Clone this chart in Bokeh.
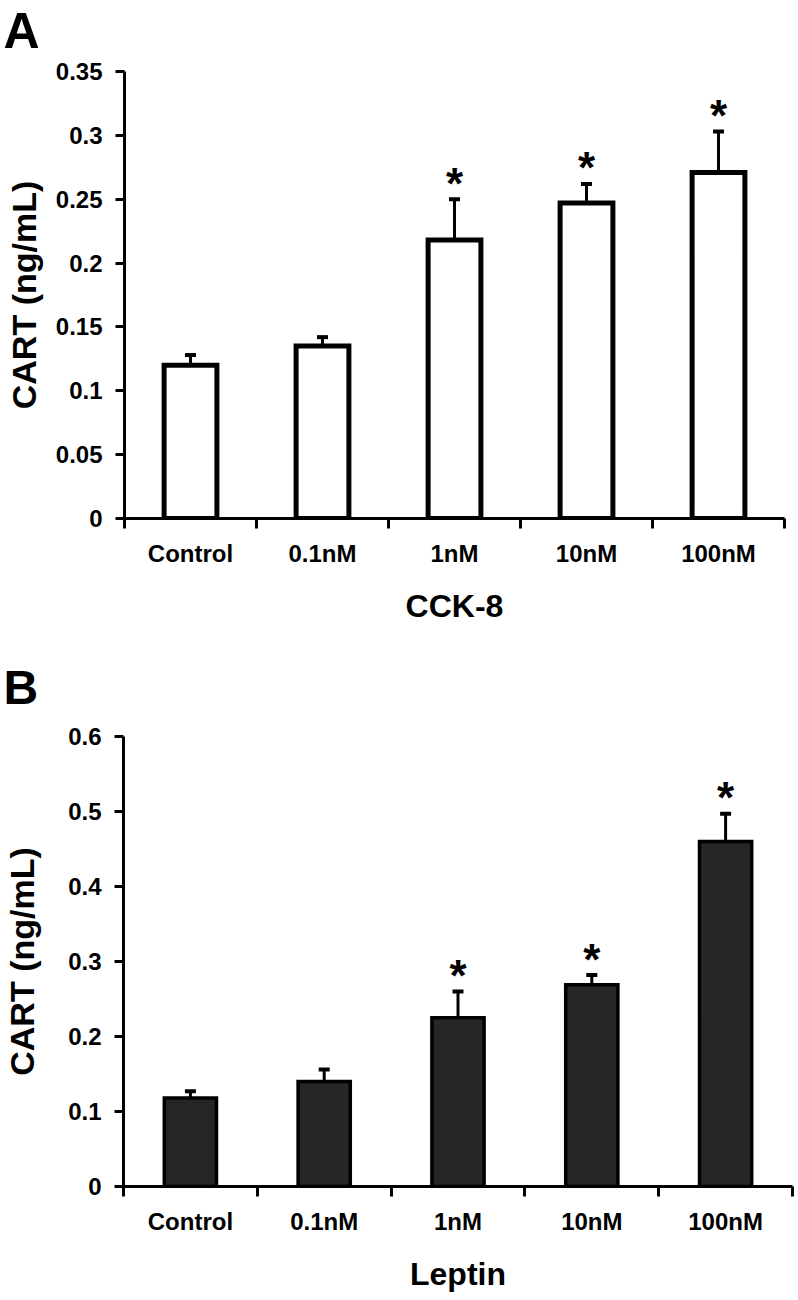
from bokeh.plotting import figure
from bokeh.models import Range1d, FixedTicker, Whisker, TeeHead, ColumnDataSource, Label
from bokeh.layouts import column
from bokeh.embed import file_html
from bokeh.resources import INLINE
from bokeh.core.properties import value

categories = ["Control", "0.1nM", "1nM", "10nM", "100nM"]

cck_mean = [0.120, 0.135, 0.218, 0.247, 0.271]
cck_err = [0.008, 0.007, 0.032, 0.015, 0.032]
cck_sig = [False, False, True, True, True]
cck_yticks = [0, 0.05, 0.1, 0.15, 0.2, 0.25, 0.3, 0.35]
cck_ylabels = ["0", "0.05", "0.1", "0.15", "0.2", "0.25", "0.3", "0.35"]

lep_mean = [0.118, 0.140, 0.225, 0.269, 0.460]
lep_err = [0.009, 0.016, 0.035, 0.013, 0.037]
lep_sig = [False, False, True, True, True]
lep_yticks = [0, 0.1, 0.2, 0.3, 0.4, 0.5, 0.6]
lep_ylabels = ["0", "0.1", "0.2", "0.3", "0.4", "0.5", "0.6"]

FONT = "Liberation Sans"


def no_title(p):
    p.title.text = ""
    p.title.text_font_size = "0px"
    p.title.standoff = 0


def letter_fig(letter, size, h, baseline_up):
    f = figure(width=798, height=h, output_backend="svg", toolbar_location=None,
               x_axis_location=None, y_axis_location=None, min_border=0,
               x_range=Range1d(0, 1), y_range=Range1d(0, 1))
    f.frame_align = False
    no_title(f)
    f.outline_line_color = None
    f.grid.visible = False
    f.add_layout(Label(x=3, y=baseline_up, x_units="screen", y_units="screen",
                       text=letter, text_baseline="alphabetic", text_align="left",
                       text_font=FONT, text_font_style="bold", text_font_size=size,
                       text_color="black"))
    return f


def make_panel(xlabel, means, errs, sig, yticks, ylabels, fill, line_w, bar_w,
               ylab_standoff, fig_h, b_left, b_top, b_right, b_bottom):
    n = len(categories)
    centers = [i + 0.5 for i in range(n)]
    uppers = [m + e for m, e in zip(means, errs)]
    p = figure(width=798, height=fig_h, output_backend="svg", toolbar_location=None,
               x_range=Range1d(0, n), y_range=Range1d(yticks[0], yticks[-1]),
               min_border_left=b_left, min_border_top=b_top,
               min_border_right=b_right, min_border_bottom=b_bottom)
    p.frame_align = False
    no_title(p)
    p.outline_line_color = None
    p.grid.visible = False
    p.background_fill_color = "white"
    p.border_fill_color = "white"

    src = ColumnDataSource(dict(x=centers, top=means, upper=uppers))
    p.vbar(x="x", top="top", bottom=0, width=bar_w, source=src,
           fill_color=fill, line_color="black", line_width=line_w, line_join="miter")
    p.add_layout(Whisker(base="x", lower="top", upper="upper", source=src,
                         dimension="height", line_width=3, line_color="black",
                         lower_head=None,
                         upper_head=TeeHead(size=11, line_width=4, line_color="black")))
    sx = [c for c, s in zip(centers, sig) if s]
    sy = [u for u, s in zip(uppers, sig) if s]
    p.text(x=sx, y=sy, text=["*"] * len(sx), text_align="center",
           text_baseline="alphabetic", text_font=value(FONT), text_font_style="bold",
           text_font_size="44px", text_color="black", y_offset=-16)

    xa = p.xaxis[0]
    xa.ticker = FixedTicker(ticks=centers, minor_ticks=list(range(n + 1)))
    xa.major_label_overrides = {c: lab for c, lab in zip(centers, categories)}
    xa.major_tick_line_color = None
    xa.major_tick_out = 0
    xa.major_tick_in = 0
    xa.minor_tick_out = 10
    xa.minor_tick_in = 0
    xa.minor_tick_line_width = 3
    xa.minor_tick_line_color = "black"
    xa.axis_line_width = 3
    xa.axis_line_color = "black"
    xa.major_label_standoff = 11
    xa.major_label_text_font = FONT
    xa.major_label_text_font_style = "bold"
    xa.major_label_text_font_size = "24px"
    xa.major_label_text_color = "black"
    xa.axis_label = xlabel
    xa.axis_label_text_font = FONT
    xa.axis_label_text_font_style = "bold"
    xa.axis_label_text_font_size = "32px"
    xa.axis_label_text_color = "black"
    xa.axis_label_standoff = 18

    ya = p.yaxis[0]
    ya.ticker = FixedTicker(ticks=yticks, minor_ticks=[])
    ya.major_label_overrides = {t: lab for t, lab in zip(yticks, ylabels)}
    ya.major_tick_out = 9
    ya.major_tick_in = 0
    ya.major_tick_line_width = 3
    ya.major_tick_line_color = "black"
    ya.axis_line_width = 3
    ya.axis_line_color = "black"
    ya.major_label_standoff = 13
    ya.major_label_text_font = FONT
    ya.major_label_text_font_style = "bold"
    ya.major_label_text_font_size = "24px"
    ya.major_label_text_color = "black"
    ya.axis_label = "CART (ng/mL)"
    ya.axis_label_text_font = FONT
    ya.axis_label_text_font_style = "bold"
    ya.axis_label_text_font_size = "34px"
    ya.axis_label_text_color = "black"
    ya.axis_label_standoff = ylab_standoff

    return p


la = letter_fig("A", "50px", 52, 22)
pa = make_panel("CCK-8", cck_mean, cck_err, cck_sig, cck_yticks, cck_ylabels,
                "white", 5, 0.40, 10, 593, 124, 19, 14, 127)
lb = letter_fig("B", "48px", 63, 21)
pb = make_panel("Leptin", lep_mean, lep_err, lep_sig, lep_yticks, lep_ylabels,
                "#262626", 3.5, 0.39, 24, 592, 123, 28, 6, 114)

layout = column(la, pa, lb, pb, spacing=0)
open("out.html", "w").write(file_html(layout, INLINE))
